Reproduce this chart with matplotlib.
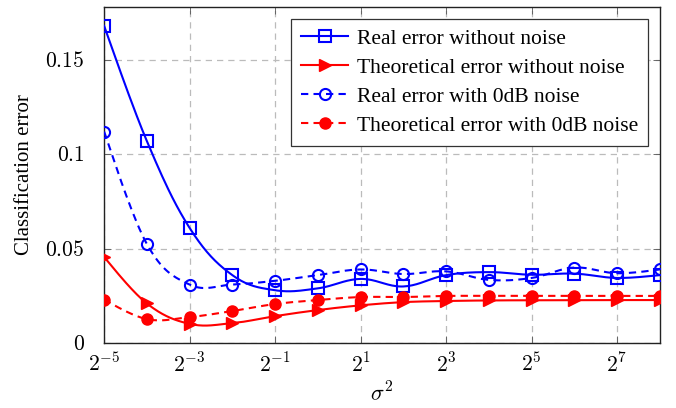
import numpy as np
import matplotlib
matplotlib.use("Agg")
import matplotlib.pyplot as plt
from matplotlib.ticker import FixedLocator, NullLocator

plt.rcParams['font.family'] = ['Liberation Serif', 'DejaVu Serif']
plt.rcParams['mathtext.fontset'] = 'cm'

# ---- data ----
exponents = [-5, -4, -3, -2, -1, 0, 1, 2, 3, 4, 5, 6, 7, 8]
real_no_noise = [0.168, 0.107, 0.061, 0.036, 0.028, 0.029, 0.034, 0.030, 0.036, 0.0376, 0.0362, 0.0368, 0.0345, 0.036]
theo_no_noise = [0.0456, 0.021, 0.0102, 0.0106, 0.0143, 0.0175, 0.020, 0.0217, 0.0223, 0.0226, 0.0227, 0.0228, 0.0228, 0.0228]
real_noise = [0.112, 0.0525, 0.031, 0.031, 0.033, 0.036, 0.039, 0.0366, 0.038, 0.0335, 0.0345, 0.040, 0.037, 0.039]
theo_noise = [0.023, 0.0127, 0.0138, 0.017, 0.0207, 0.0228, 0.0244, 0.0244, 0.025, 0.025, 0.025, 0.025, 0.025, 0.025]
xtick_exps = [-5, -3, -1, 1, 3, 5, 7]
ytick_vals = [0, 0.05, 0.1, 0.15]
ytick_labels = ['0', '0.05', '0.1', '0.15']
legend_labels = ['Real error without noise', 'Theoretical error without noise',
                 'Real error with 0dB noise', 'Theoretical error with 0dB noise']


def smooth(u, y, n=20, tension=0.55):
    # cardinal-spline style smoothing (like pgfplots "smooth") in (log2 x, y)
    u = np.asarray(u, float); y = np.asarray(y, float)
    P = np.column_stack([u, y])
    out = []
    for i in range(len(P) - 1):
        p0 = P[i - 1] if i > 0 else P[i]
        p1, p2 = P[i], P[i + 1]
        p3 = P[i + 2] if i + 2 < len(P) else P[i + 1]
        m1 = tension * (p2 - p0) / 2 * (2 if i > 0 else 1)
        m2 = tension * (p3 - p1) / 2 * (2 if i + 2 < len(P) else 1)
        c1 = p1 + m1 / 3
        c2 = p2 - m2 / 3
        t = np.linspace(0, 1, n, endpoint=(i == len(P) - 2))[:, None]
        b = (1 - t) ** 3 * p1 + 3 * (1 - t) ** 2 * t * c1 + 3 * (1 - t) * t ** 2 * c2 + t ** 3 * p2
        out.append(b)
    B = np.vstack(out)
    return 2.0 ** B[:, 0], B[:, 1]


fig = plt.figure(figsize=(6.76, 4.08), dpi=100)
ax = fig.add_axes([0.154, 0.159, 0.822, 0.824])
ax.set_xscale('log', base=2)

xs = 2.0 ** np.array(exponents, float)
blue = (0, 0, 1)
red = (1, 0, 0)
lw = 1.5
dash = (0, (3.5, 2.5))

series = [
    (real_no_noise, blue, '-', dict(marker='s', markersize=8, markerfacecolor='none', markeredgewidth=1.5)),
    (theo_no_noise, red, '-', dict(marker='>', markersize=8, markerfacecolor=red, markeredgewidth=1.0)),
    (real_noise, blue, dash, dict(marker='o', markersize=8, markerfacecolor='none', markeredgewidth=1.5)),
    (theo_noise, red, dash, dict(marker='o', markersize=8, markerfacecolor=red, markeredgewidth=1.0)),
]
handles = []
for (vals, col, ls, mk), lab in zip(series, legend_labels):
    sx, sy = smooth(exponents, vals)
    ax.plot(sx, sy, color=col, linestyle=ls, linewidth=lw, zorder=3)
    ax.plot(xs, vals, linestyle='none', color=col, markeredgecolor=col, zorder=4, **mk)
    h, = ax.plot([], [], color=col, linestyle=ls, linewidth=lw, markeredgecolor=col, **mk)
    h.set_label(lab)
    handles.append(h)

ax.set_xlim(2.0 ** -5, 2.0 ** 8)
ax.set_ylim(0, 0.178)
ax.xaxis.set_major_locator(FixedLocator(2.0 ** np.array(xtick_exps, float)))
ax.xaxis.set_minor_locator(NullLocator())
ax.set_xticklabels([r'$2^{%d}$' % e for e in xtick_exps])
ax.set_yticks(ytick_vals)
ax.set_yticklabels([r'$%s$' % s for s in ytick_labels])
ax.tick_params(direction='in', top=True, right=True, labelsize=15.5, length=5, width=0.6,
               color='#555555')
ax.tick_params(axis='x', pad=7)
ax.tick_params(axis='y', pad=14)
ax.grid(True, color='#bbbbbb', linestyle=(0, (5, 4)), linewidth=0.9)
ax.set_axisbelow(True)
for s in ax.spines.values():
    s.set_linewidth(1.0)
    s.set_color('#222222')

ax.set_xlabel(r'$\sigma^2$', fontsize=16, labelpad=4)
ax.set_ylabel('Classification error', fontsize=15, labelpad=8)

leg = ax.legend(handles=handles, loc='upper right', fontsize=15.5, fancybox=False,
                edgecolor='#333333', framealpha=1, borderaxespad=0.55, handlelength=2.2,
                labelspacing=0.42, borderpad=0.45, handletextpad=0.4)
leg.get_frame().set_linewidth(0.9)

fig.savefig('out.png', dpi=100)
